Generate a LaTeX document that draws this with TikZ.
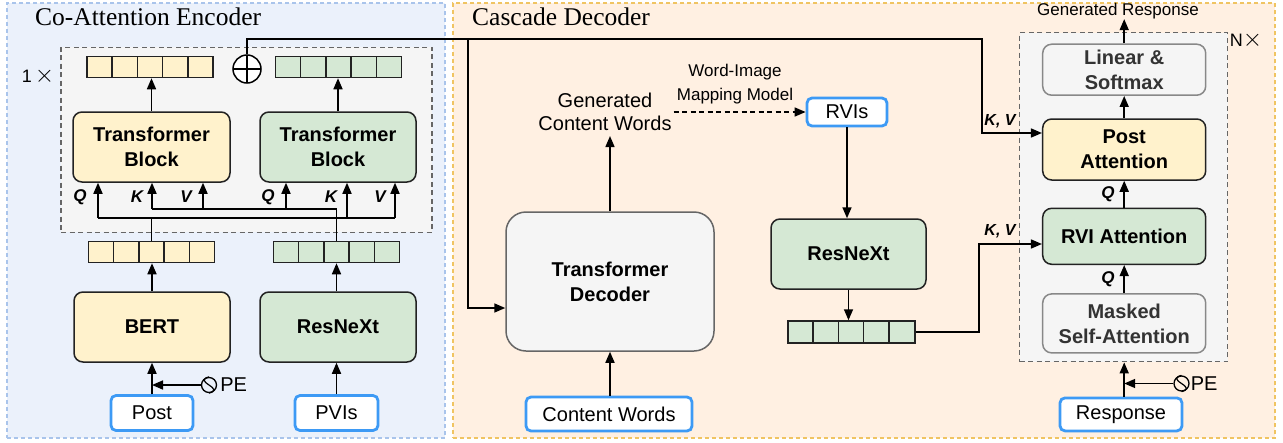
\documentclass[tikz,border=0pt]{standalone}
\usepackage{fontspec}
\setmainfont{Liberation Serif}
\setsansfont{Liberation Sans}
\usetikzlibrary{arrows.meta,calc}
\newcommand\fsz[2]{\fontsize{#1}{#2}\selectfont}
\definecolor{encfill}{HTML}{EBF1FB}
\definecolor{encdraw}{HTML}{A9C4EB}
\definecolor{decfill}{HTML}{FFF0E2}
\definecolor{decdraw}{HTML}{F0C462}
\definecolor{repfill}{HTML}{F5F5F5}
\definecolor{repdraw}{HTML}{666666}
\definecolor{yel}{HTML}{FFF2CC}
\definecolor{grn}{HTML}{D5E8D4}
\definecolor{gry}{HTML}{F5F5F5}
\definecolor{dark}{HTML}{222222}
\definecolor{inblue}{HTML}{3D9AF5}
\definecolor{txtgray}{HTML}{333333}
\definecolor{bordgray}{HTML}{888888}
\begin{document}
\begin{tikzpicture}[x=1pt,y=-1pt,
  >={Triangle[length=11pt,width=9pt]},
  wire/.style={draw=black,line width=1.6pt},
  conn/.style={wire,->},
  dconn/.style={wire,->,dash pattern=on 5pt off 3.5pt},
  panel/.style={line width=1.2pt,dash pattern=on 4pt off 3pt,inner sep=0},
  repbox/.style={fill=repfill,draw=repdraw,line width=1.4pt,dash pattern=on 5pt off 3.5pt,inner sep=0},
  box/.style={draw=dark,line width=1.5pt,rounded corners=9pt,inner sep=0,align=center,font=\sffamily\bfseries\fsz{20}{25}},
  ybox/.style={box,fill=yel},
  gbox/.style={box,fill=grn},
  graybox/.style={box,fill=gry,draw=bordgray,text=txtgray},
  inbox/.style={draw=inblue,line width=2.8pt,fill=white,rounded corners=5pt,inner sep=0,font=\sffamily\fsz{20}{24}},
  row/.style={draw=dark,line width=1.5pt,minimum width=126,minimum height=21,inner sep=0,
     path picture={\foreach \i in {1,...,4}{\draw[dark,line width=1.5pt] ($(path picture bounding box.south west)+(\i*25.2,0)$) -- ($(path picture bounding box.north west)+(\i*25.2,0)$);}}},
  lab/.style={inner sep=0,font=\sffamily\fsz{20}{23},align=center},
  small/.style={inner sep=0,font=\sffamily\fsz{17}{24},align=center},
  qkv/.style={inner sep=0,font=\sffamily\bfseries\itshape\fsz{17}{18}},
  kvlab/.style={inner sep=0,font=\sffamily\bfseries\itshape\fsz{16}{18}},
  title/.style={inner sep=0,anchor=base west,font=\fsz{25.5}{28}},
  pesym/.style={circle,draw=black,line width=1.3pt,minimum size=15,inner sep=0},
  oplus/.style={circle,draw=black,fill=white,line width=1.5pt,minimum size=28,inner sep=0,
     path picture={\draw[black,line width=1.5pt] (path picture bounding box.north) -- (path picture bounding box.south) (path picture bounding box.west) -- (path picture bounding box.east);}},
]
\useasboundingbox (0,0) rectangle (1283,442);
\fill[white] (0,0) rectangle (1283,442);

% panels
\node[panel,fill=encfill,draw=encdraw,minimum width=438,minimum height=435] (encpanel) at (226,220.5) {};
\node[panel,fill=decfill,draw=decdraw,minimum width=822,minimum height=435] (decpanel) at (864,220.5) {};
\node[title] (enctitle) at (35,25) {Co-Attention Encoder};
\node[title] (dectitle) at (472,25) {Cascade Decoder};

% ---------------- encoder ----------------
\node[repbox,minimum width=371,minimum height=185] (encrep) at (246.5,139.7) {};
\node[inner sep=0,font=\sffamily\fsz{18}{20}] (onex) at (38,76) {1\,{\fsz{24}{24}$\times$}};

\node[row,fill=yel] (ytop) at (150,67) {};
\node[row,fill=grn] (gtop) at (338.5,67) {};
\node[oplus] (plus) at (247,69) {};
\node[ybox,minimum width=157,minimum height=70] (tby) at (151.5,147) {Transformer\\Block};
\node[gbox,minimum width=156,minimum height=70] (tbg) at (338,147) {Transformer\\Block};
\node[row,fill=yel] (ybot) at (151.5,252) {};
\node[row,fill=grn] (gbot) at (336.5,252) {};
\node[ybox,minimum width=156,minimum height=70] (bert) at (152,327) {BERT};
\node[gbox,minimum width=156,minimum height=70] (resenc) at (338,327) {ResNeXt};
\node[inbox,minimum width=82,minimum height=35] (post) at (152,413) {Post};
\node[inbox,minimum width=83,minimum height=35] (pvis) at (336.5,413) {PVIs};
\node[pesym] (pe1) at (209,385) {};
\node[lab,anchor=west] (pe1t) at ([xshift=3pt]pe1.east) {PE};

\draw[conn] (tby.north) -- (tby.north |- ytop.south);
\draw[conn] (tbg.north) -- (tbg.north |- gtop.south);
\draw[conn] (bert.north) -- (bert.north |- ybot.south);
\draw[conn] (resenc.north -| gbot.south) -- (gbot.south);
\draw[conn] (post.north) -- (post.north |- bert.south);
\draw[conn] (pvis.north) -- (pvis.north |- resenc.south);
\draw[conn] (pe1.west) -- (pe1.west -| post.north);
\draw[line width=1.2pt] (pe1.north) .. controls +(-7,2) and +(-6,-4) .. (pe1.center) .. controls +(6,4) and +(7,-2) .. (pe1.south);

% Q K V wiring
\coordinate (lowL) at (98,218);
\coordinate (lowR) at (395,218);
\coordinate (kg) at (347,218);
\coordinate (upL) at (152,209);
\coordinate (upR) at (336.5,209);
\coordinate (vy) at (203,209);
\coordinate (qg) at (286,209);
\draw[wire] (ybot.north) -- (ybot.north |- lowL);
\draw[wire] (lowL) -- (lowR);
\draw[conn] (lowL) -- (lowL |- tby.south);
\draw[conn] (kg) -- (kg |- tbg.south);
\draw[conn] (lowR) -- (lowR |- tbg.south);
\draw[wire] (gbot.north) -- (upR) -- (upL);
\draw[conn] (upL) -- (upL |- tby.south);
\draw[conn] (vy) -- (vy |- tby.south);
\draw[conn] (qg) -- (qg |- tbg.south);
\node[qkv] (lq1) at (80,197) {Q};
\node[qkv] (lk1) at (137,197) {K};
\node[qkv] (lv1) at (186,197) {V};
\node[qkv] (lq2) at (268,197) {Q};
\node[qkv] (lk2) at (331,197) {K};
\node[qkv] (lv2) at (380,197) {V};

% ---------------- decoder ----------------
\node[box,fill=gry,draw=repdraw,rounded corners=20pt,minimum width=208,minimum height=139] (td) at (610,281.5) {Transformer\\Decoder};
\node[lab] (gcw) at (605,112) {Generated\\Content Words};
\node[small] (wimm) at (735,84) {Word-Image\\Mapping Model};
\node[inbox,minimum width=80,minimum height=28] (rvis) at (847,112) {RVIs};
\node[gbox,minimum width=155,minimum height=70] (resdec) at (848.5,254) {ResNeXt};
\node[row,fill=grn,minimum width=127,minimum height=22] (drow) at (851.5,332) {};
\node[inbox,minimum width=166,minimum height=34] (cw) at (609,414) {Content Words};

\draw[conn] (td.north) -- ([yshift=-5pt]td.north |- gcw.south);
\draw[dconn] ([xshift=2pt]gcw.east |- rvis.west) -- (rvis.west);
\draw[conn] (rvis.south) -- (rvis.south |- resdec.north);
\draw[conn] (resdec.south) -- (resdec.south |- drow.north);
\draw[conn] (cw.north) -- (cw.north -| td.south) -- (td.south);

% right stack
\node[repbox,minimum width=208,minimum height=329] (nrep) at (1123.5,197.2) {};
\node[inner sep=0,font=\sffamily\fsz{18}{20}] (nx) at (1246,40) {N{\fsz{24}{24}$\times$}};
\node[graybox,minimum width=163,minimum height=51] (ls) at (1124.2,69.7) {Linear \&\\Softmax};
\node[ybox,minimum width=163,minimum height=61] (pa) at (1124.2,149.5) {Post\\Attention};
\node[gbox,minimum width=163,minimum height=56] (rvi) at (1124.2,236.3) {RVI Attention};
\node[graybox,minimum width=163,minimum height=59] (msa) at (1124.2,323.4) {Masked\\Self-Attention};
\node[inbox,minimum width=122,minimum height=33] (resp) at (1121,414.4) {Response};
\node[small] (gr) at (1118,11) {Generated Response};
\node[pesym] (pe2) at (1181.5,383.5) {};
\node[lab,anchor=west] (pe2t) at ([xshift=1pt]pe2.east) {PE};

\draw[conn] (msa.north) -- (rvi.south);
\draw[conn] (rvi.north) -- (pa.south);
\draw[conn] (pa.north) -- (ls.south);
\draw[conn] (ls.north) -- (ls.north |- gr.south);
\draw[conn] (msa.south |- resp.north) -- (msa.south |- nrep.south);
\draw[conn] (pe2.west) -- (pe2.west -| msa.south);
\draw[line width=1.2pt] (pe2.north) .. controls +(-7,2) and +(-6,-4) .. (pe2.center) .. controls +(6,4) and +(7,-2) .. (pe2.south);
\node[qkv] (lq3) at (1108,194) {Q};
\node[qkv] (lq4) at (1108,279) {Q};

% K,V connections
\coordinate (kvturn2) at (979,244);
\draw[conn] (drow.east) -| (kvturn2) -- (kvturn2 -| rvi.west);
\node[kvlab] (kvl2) at (1000,231) {K, V};

\coordinate (kvtop) at (982,39);
\coordinate (kvturn1) at (982,133);
\coordinate (brtop) at (468,39);
\coordinate (brbot) at (468,308);
\draw[conn] (plus.north) |- (kvtop) -- (kvturn1) -- (kvturn1 -| pa.west);
\draw[conn] (brtop) -- (brbot) -- (brbot -| td.west);
\node[kvlab] (kvl1) at (1000,121) {K, V};
\end{tikzpicture}
\end{document}
